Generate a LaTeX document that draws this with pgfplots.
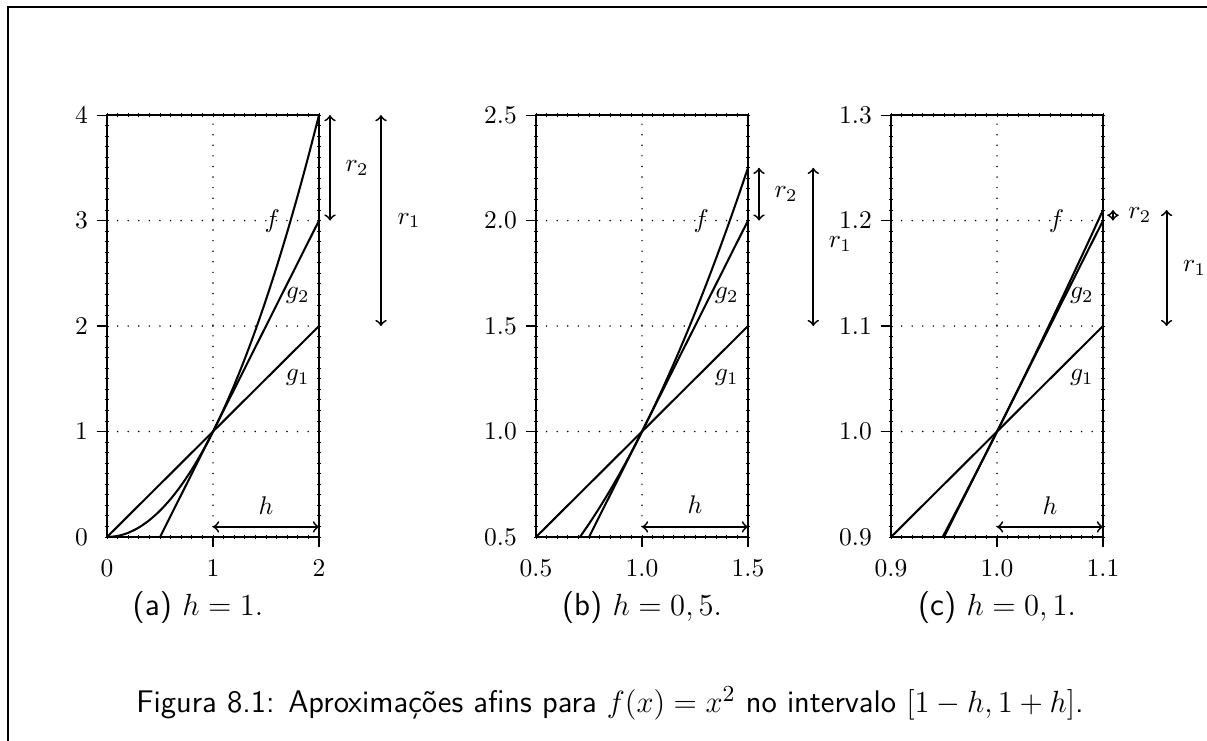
\documentclass[border=0pt]{standalone}
\usepackage{fontspec}
\usepackage{pgfplots}
\pgfplotsset{compat=1.18}

% 1 px of the reference = \U
\newcommand{\U}{0.392pt}

\tikzset{ann/.style={black, line width=0.7pt, <->}}
\pgfplotsset{
  panel/.style={
    scale only axis, width=83.1pt, height=165.4pt, anchor=south west,
    clip=false, tick pos=left, tick align=outside,
    major tick length=4pt,
    axis line style={line width=0.8pt},
    tick style={black, line width=0.45pt},
    xmajorgrids, ymajorgrids,
    major grid style={black, line width=0.65pt, line cap=round,
                      dash pattern=on 0pt off 4.15pt},
    extra tick style={grid=none, major tick style={draw=none}},
    tick label style={font=\normalsize},
    xticklabel style={yshift=-1.5pt},
  },
  minors/.style={
    scale only axis, width=83.1pt, height=165.4pt, anchor=south west,
    axis line style={draw=none}, tick pos=both, tick align=center,
    minor tick num=9, major tick length=1.6pt, minor tick length=1.6pt,
    tick style={black, line width=0.35pt},
    xticklabels={}, yticklabels={},
  },
  curve/.style={black, line width=0.8pt, mark=none},
  onedec/.style={
    /pgf/number format/fixed, /pgf/number format/fixed zerofill,
    /pgf/number format/precision=1},
}

\begin{document}
\begin{tikzpicture}
\useasboundingbox (0,0) rectangle (1207*\U,-740*\U);
\draw[line width=0.75pt] (8*\U,-800*\U) -- (8*\U,-7*\U) -- (1300*\U,-7*\U);

% ---------- (a) h = 1
\begin{axis}[minors, at={(107*\U,-537*\U)},
  xmin=0, xmax=2, ymin=0, ymax=4, xtick={0,1,2}, ytick={0,1,2,3,4}]
\end{axis}
\begin{axis}[panel, at={(107*\U,-537*\U)},
  xmin=0, xmax=2, ymin=0, ymax=4,
  xtick={1,2}, extra x ticks={0}, ytick={1,2,3,4}, extra y ticks={0}]
\addplot[curve, smooth] coordinates {
  (0,0)(0.1,0.01)(0.2,0.04)(0.3,0.09)(0.4,0.16)(0.5,0.25)(0.6,0.36)
  (0.7,0.49)(0.8,0.64)(0.9,0.81)(1,1)(1.1,1.21)(1.2,1.44)(1.3,1.69)
  (1.4,1.96)(1.5,2.25)(1.6,2.56)(1.7,2.89)(1.8,3.24)(1.9,3.61)(2,4)};
\addplot[curve] coordinates {(0,0)(2,2)};
\addplot[curve] coordinates {(0.5,0)(2,3)};
\node at (rel axis cs:0.78,0.749) {$f$};
\node at (rel axis cs:0.90,0.573) {$g_2$};
\node at (rel axis cs:0.90,0.377) {$g_1$};
\draw[ann] (axis cs:2.104,4) -- (axis cs:2.104,3);
\node[anchor=west, inner sep=0pt, xshift=15*\U] at (axis cs:2.104,3.5) {$r_2$};
\draw[ann] (axis cs:2.585,4) -- (axis cs:2.585,2);
\node[anchor=west, inner sep=0pt, xshift=16*\U] at (axis cs:2.585,3) {$r_1$};
\draw[ann] (axis cs:1,0.096) -- (axis cs:2,0.096);
\node at (axis cs:1.5,0.30) {$h$};
\end{axis}

% ---------- (b) h = 0,5
\begin{axis}[minors, at={(536*\U,-537*\U)},
  xmin=0.5, xmax=1.5, ymin=0.5, ymax=2.5,
  xtick={0.5,1,1.5}, ytick={0.5,1,1.5,2,2.5}]
\end{axis}
\begin{axis}[panel, onedec, at={(536*\U,-537*\U)},
  xmin=0.5, xmax=1.5, ymin=0.5, ymax=2.5,
  xtick={1,1.5}, extra x ticks={0.5}, ytick={1,1.5,2,2.5}, extra y ticks={0.5}]
\addplot[curve, smooth] coordinates {
  (0.7071,0.5)(0.75,0.5625)(0.8,0.64)(0.85,0.7225)(0.9,0.81)(0.95,0.9025)
  (1,1)(1.05,1.1025)(1.1,1.21)(1.15,1.3225)(1.2,1.44)(1.25,1.5625)
  (1.3,1.69)(1.35,1.8225)(1.4,1.96)(1.45,2.1025)(1.5,2.25)};
\addplot[curve] coordinates {(0.5,0.5)(1.5,1.5)};
\addplot[curve] coordinates {(0.75,0.5)(1.5,2)};
\node at (rel axis cs:0.78,0.749) {$f$};
\node at (rel axis cs:0.90,0.573) {$g_2$};
\node at (rel axis cs:0.90,0.377) {$g_1$};
\draw[ann] (axis cs:1.552,2.25) -- (axis cs:1.552,2);
\node[anchor=west, inner sep=0pt, xshift=15*\U] at (axis cs:1.552,2.125) {$r_2$};
\draw[ann] (axis cs:1.808,2.25) -- (axis cs:1.808,1.5);
\node[anchor=west, inner sep=0pt, xshift=15*\U] at (axis cs:1.808,1.89) {$r_1$};
\draw[ann] (axis cs:1,0.548) -- (axis cs:1.5,0.548);
\node at (axis cs:1.25,0.652) {$h$};
\end{axis}

% ---------- (c) h = 0,1
\begin{axis}[minors, at={(891*\U,-537*\U)},
  xmin=0.9, xmax=1.1, ymin=0.9, ymax=1.3,
  xtick={0.9,1,1.1}, ytick={0.9,1,1.1,1.2,1.3}]
\end{axis}
\begin{axis}[panel, onedec, at={(891*\U,-537*\U)},
  xmin=0.9, xmax=1.1, ymin=0.9, ymax=1.3,
  xtick={1,1.1}, extra x ticks={0.9}, ytick={1,1.1,1.2,1.3}, extra y ticks={0.9}]
\addplot[curve, smooth] coordinates {
  (0.9487,0.9)(0.96,0.9216)(0.97,0.9409)(0.98,0.9604)(0.99,0.9801)(1,1)
  (1.01,1.0201)(1.02,1.0404)(1.03,1.0609)(1.04,1.0816)(1.05,1.1025)
  (1.06,1.1236)(1.07,1.1449)(1.08,1.1664)(1.09,1.1881)(1.1,1.21)};
\addplot[curve] coordinates {(0.9,0.9)(1.1,1.1)};
\addplot[curve] coordinates {(0.95,0.9)(1.1,1.2)};
\node at (rel axis cs:0.78,0.749) {$f$};
\node at (rel axis cs:0.90,0.573) {$g_2$};
\node at (rel axis cs:0.90,0.377) {$g_1$};
\draw[ann] (axis cs:1.1094,1.21) -- (axis cs:1.1094,1.2);
\node[anchor=west, inner sep=0pt, xshift=15*\U] at (axis cs:1.1094,1.205) {$r_2$};
\draw[ann] (axis cs:1.160,1.21) -- (axis cs:1.160,1.1);
\node[anchor=west, inner sep=0pt, xshift=16*\U] at (axis cs:1.160,1.155) {$r_1$};
\draw[ann] (axis cs:1,0.9096) -- (axis cs:1.1,0.9096);
\node at (axis cs:1.05,0.930) {$h$};
\end{axis}

% ---------- captions
\node at (198*\U,-608*\U) {\fontsize{12.5}{15}\selectfont\textsf{(a)} $h=1.$};
\node at (642*\U,-608*\U) {\fontsize{12.5}{15}\selectfont\textsf{(b)} $h=0,5.$};
\node at (997*\U,-608*\U) {\fontsize{12.5}{15}\selectfont\textsf{(c)} $h=0,1.$};
\node at (610*\U,-703*\U) {\fontsize{12.25}{14}\selectfont\sffamily
  Figura 8.1: Aproximações afins para $f(x)=x^2$ no intervalo $[1-h,1+h]$.};
\end{tikzpicture}
\end{document}
